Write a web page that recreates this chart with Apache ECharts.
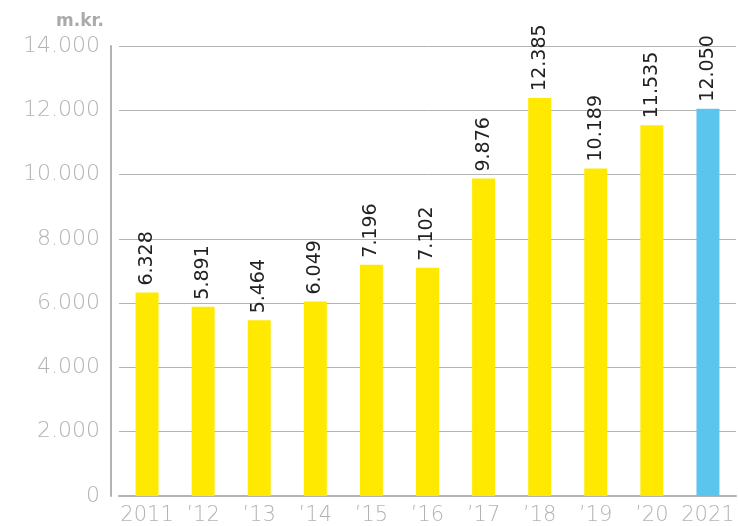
<!doctype html>
<html lang="en">
<head>
    <meta charset="UTF-8">
    <title>m.kr. chart</title>
    <style>
        html, body {margin: 0; padding: 0; background: #fff;}
        #chart {width: 738px; height: 526px;}
    </style>
</head>
<body>
<div id="chart"></div>
<script src="https://cdn.jsdelivr.net/npm/echarts@6/dist/echarts.min.js"></script>
<script>
    var years = ['2011', '\u201912', '\u201913', '\u201914', '\u201915', '\u201916', '\u201917', '\u201918', '\u201919', '\u201920', '2021'];
    var values = [6328, 5891, 5464, 6049, 7196, 7102, 9876, 12385, 10189, 11535, 12050];
    var yellow = '#ffe900';
    var blue = '#5cc5ee';
    var font = 'DejaVu Sans';

    function dots(v) {
        return String(v).replace(/\B(?=(\d{3})+(?!\d))/g, '.');
    }

    var chart = echarts.init(document.getElementById('chart'));
    chart.setOption({
        animation: false,
        title: {
            text: 'm.kr.',
            left: 51,
            top: 8,
            textStyle: {color: '#aaa', fontSize: 17, fontWeight: 'bold', fontFamily: font}
        },
        grid: {left: 119, right: 2, top: 46, bottom: 28},
        xAxis: {
            type: 'category',
            data: years,
            axisLine: {lineStyle: {color: '#b3b3b3', width: 2}},
            axisTick: {show: false},
            axisLabel: {interval: 0, color: '#b3b3b3', fontSize: 21, margin: 9, fontFamily: font, fontWeight: 300}
        },
        yAxis: {
            type: 'value',
            min: 0,
            max: 14000,
            interval: 2000,
            offset: 8,
            axisLine: {show: true, lineStyle: {color: '#b3b3b3', width: 2}},
            axisTick: {show: false},
            splitLine: {lineStyle: {color: '#b3b3b3', width: 1}},
            axisLabel: {color: '#b3b3b3', fontSize: 22, margin: 11, fontFamily: font, fontWeight: 300, formatter: dots}
        },
        series: [{
            type: 'bar',
            barWidth: 23,
            data: values.map(function (v, i) {
                return {value: v, itemStyle: {color: i === values.length - 1 ? blue : yellow}};
            }),
            label: {
                show: true,
                position: 'top',
                rotate: 90,
                align: 'left',
                verticalAlign: 'middle',
                distance: 7,
                color: '#222',
                fontSize: 19,
                fontFamily: font,
                formatter: function (p) { return dots(p.value); }
            }
        }]
    });
</script>
</body>
</html>
